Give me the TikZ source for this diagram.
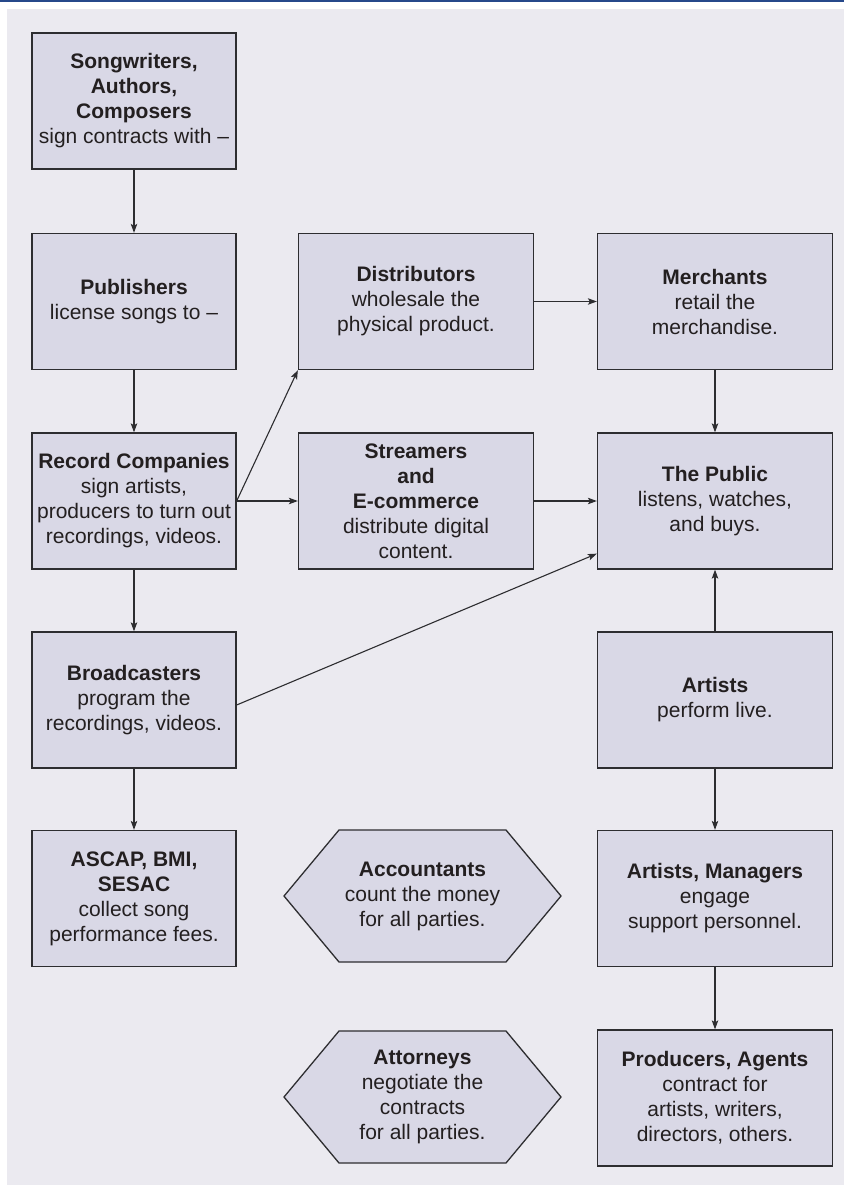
\documentclass[tikz,border=0pt]{standalone}
\usepackage{fontspec}
\setmainfont{Liberation Sans}
\usetikzlibrary{arrows.meta}
\definecolor{panelgray}{RGB}{235,234,240}
\definecolor{boxgray}{RGB}{217,216,230}
\definecolor{edgegray}{RGB}{45,45,48}
\definecolor{inkgray}{RGB}{35,31,32}
\definecolor{rulerblue}{RGB}{38,72,138}
\newcommand{\HexagonBox}[4]{
\coordinate (#1) at (#2,#3);
\draw[hexagon] ({#2-138.5},#3) -- ({#2-83.5},{#3-66}) -- ({#2+83.5},{#3-66}) -- ({#2+138.5},#3) -- ({#2+83.5},{#3+66}) -- ({#2-83.5},{#3+66}) -- cycle;
\node[hextext] (#1text) at (#1) {#4};
}
\begin{document}
\begin{tikzpicture}[>={Stealth[length=9pt, width=6.5pt, inset=2pt]}, x=1pt, y=-1pt,
box/.style={draw=edgegray, fill=boxgray, line width=1.3pt, inner sep=0, align=center, text=inkgray, font=\fontsize{21}{25}\selectfont, minimum height=136pt},
narrowbox/.style={box, minimum width=204pt},
widebox/.style={box, minimum width=235pt},
hexagon/.style={draw=edgegray, fill=boxgray, line width=1.3pt},
hextext/.style={inner sep=0, align=center, text=inkgray, font=\fontsize{21}{25}\selectfont},
flow/.style={->, draw=edgegray, line width=1.1pt},
]
\useasboundingbox (0,0) rectangle (844,1185);

%%%%%%%%%%%%%%%%%%%%%%%% BACKGROUND %%%%%%%%%%%%%%%%%%%%%%%%%%%
\fill[panelgray] (7,9) rectangle (844,1185);
\draw[rulerblue, line width=1.8pt] (0,1) -- (844,1);

%%%%%%%%%%%%%%%%%%%%%%%% LEFT COLUMN %%%%%%%%%%%%%%%%%%%%%%%%%%%
\node[narrowbox] (songwriters) at (134,101) {\textbf{Songwriters,}\\\textbf{Authors,}\\\textbf{Composers}\\sign contracts with --};
\node[narrowbox] (publishers) at (134,301.5) {\textbf{Publishers}\\license songs to --};
\node[narrowbox] (records) at (134,501) {\textbf{Record Companies}\\sign artists,\\producers to turn out\\recordings, videos.};
\node[narrowbox] (broadcasters) at (134,700) {\textbf{Broadcasters}\\program the\\recordings, videos.};
\node[narrowbox] (ascap) at (134,898.5) {\textbf{ASCAP, BMI,}\\\textbf{SESAC}\\collect song\\performance fees.};

%%%%%%%%%%%%%%%%%%%%%%%% MIDDLE COLUMN %%%%%%%%%%%%%%%%%%%%%%%%%%%
\node[widebox] (distributors) at (416,301.5) {\textbf{Distributors}\\wholesale the\\physical product.};
\node[widebox] (streamers) at (416,501) {\textbf{Streamers}\\\textbf{and}\\\textbf{E-commerce}\\distribute digital\\content.};
\HexagonBox{accountants}{422.5}{896}{\textbf{Accountants}\\count the money\\for all parties.}
\HexagonBox{attorneys}{422.5}{1097}{\textbf{Attorneys}\\negotiate the\\contracts\\for all parties.}

%%%%%%%%%%%%%%%%%%%%%%%% RIGHT COLUMN %%%%%%%%%%%%%%%%%%%%%%%%%%%
\node[widebox] (merchants) at (715,301.5) {\textbf{Merchants}\\retail the\\merchandise.};
\node[widebox] (public) at (715,501) {\textbf{The Public}\\listens, watches,\\and buys.};
\node[widebox] (artists) at (715,700) {\textbf{Artists}\\perform live.};
\node[widebox] (managers) at (715,898.5) {\textbf{Artists, Managers}\\engage\\support personnel.};
\node[widebox] (producers) at (715,1098) {\textbf{Producers, Agents}\\contract for\\artists, writers,\\directors, others.};

%%%%%%%%%%%%%%%%%%%%%%%% ARROWS %%%%%%%%%%%%%%%%%%%%%%%%%%%
\draw[flow] (songwriters) -- (publishers);
\draw[flow] (publishers) -- (records);
\draw[flow] (records) -- (broadcasters);
\draw[flow] (broadcasters) -- (ascap);
\draw[flow] (records.east) -- (distributors.south west);
\draw[flow] (records.east) -- (streamers.west);
\draw[flow] (distributors) -- (merchants);
\draw[flow] (merchants) -- (public);
\draw[flow] (streamers) -- (public);
\coordinate (broadout) at ([yshift=-5pt]broadcasters.east);
\coordinate (publicin) at ([yshift=16pt]public.south west);
\draw[flow] (broadout) -- (publicin);
\draw[flow] (artists) -- (public);
\draw[flow] (artists) -- (managers);
\draw[flow] (managers) -- (producers);

\end{tikzpicture}
\end{document}
